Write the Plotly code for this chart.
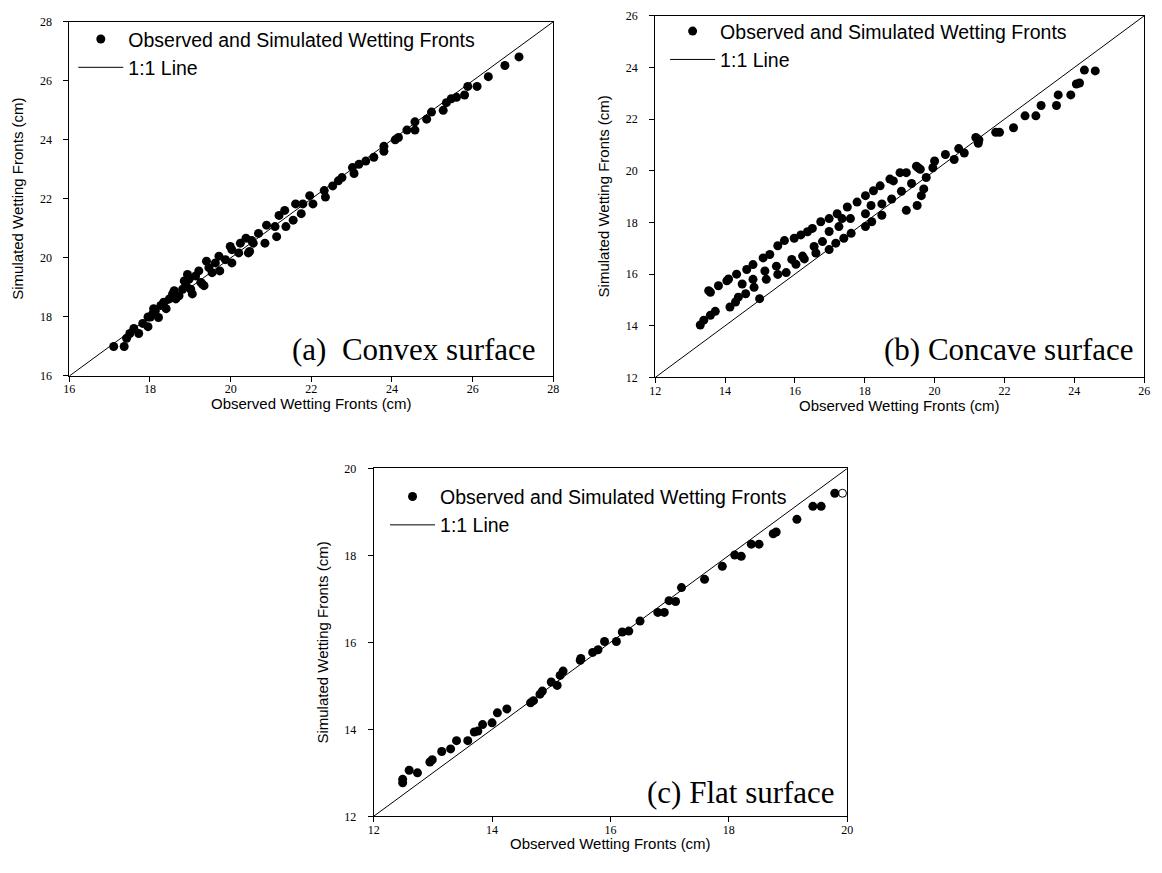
import plotly.graph_objects as go

# ---------------- data ----------------
# (a) Convex surface
convex_obs = [17.10, 17.36, 17.42, 17.50, 17.60, 17.72, 17.82, 17.95, 17.95, 18.01, 18.07, 18.09,
              18.13, 18.21, 18.27, 18.34, 18.40, 18.48, 18.56, 18.60, 18.64, 18.72, 18.81, 18.85,
              18.89, 18.93, 18.97, 19.01, 19.05, 19.13, 19.21, 19.26, 19.30, 19.34, 19.40, 19.46,
              19.54, 19.62, 19.71, 19.73, 19.87, 19.99, 20.03, 20.03, 20.20, 20.24, 20.38, 20.44,
              20.47, 20.52, 20.56, 20.69, 20.85, 20.89, 21.10, 21.14, 21.20, 21.34, 21.37, 21.55,
              21.61, 21.75, 21.79, 21.96, 22.04, 22.32, 22.35, 22.53, 22.67, 22.76, 23.02, 23.06,
              23.18, 23.35, 23.55, 23.80, 23.80, 24.08, 24.16, 24.37, 24.57, 24.57, 24.86, 24.98,
              25.27, 25.35, 25.47, 25.60, 25.80, 25.88, 26.11, 26.39, 26.80, 27.15]
convex_sim = [17.00, 17.00, 17.28, 17.44, 17.61, 17.44, 17.78, 17.67, 18.00, 18.00, 18.11, 18.28,
              18.19, 17.98, 18.39, 18.50, 18.28, 18.61, 18.78, 18.89, 18.61, 18.72, 18.94, 19.22,
              19.11, 19.44, 19.28, 18.94, 18.78, 19.39, 19.56, 19.17, 19.11, 19.06, 19.89, 19.67,
              19.50, 19.83, 20.06, 19.56, 19.94, 20.39, 20.28, 19.83, 20.17, 20.50, 20.67, 20.17,
              20.22, 20.59, 20.50, 20.83, 20.50, 21.11, 21.06, 20.72, 21.44, 21.61, 21.06, 21.28,
              21.83, 21.50, 21.83, 22.11, 21.83, 22.28, 22.06, 22.44, 22.61, 22.72, 23.06, 22.86,
              23.17, 23.28, 23.41, 23.78, 23.61, 24.00, 24.08, 24.33, 24.33, 24.61, 24.70, 24.94,
              25.00, 25.26, 25.39, 25.44, 25.52, 25.81, 25.81, 26.14, 26.52, 26.81]

# (b) Concave surface
concave_obs = [13.29, 13.39, 13.58, 13.72, 13.53, 13.58, 13.81, 14.05, 14.10, 14.14, 14.30, 14.38,
               14.33, 14.49, 14.59, 14.62, 14.80, 14.80, 14.83, 14.99, 15.14, 15.18, 15.09, 15.28,
               15.47, 15.51, 15.51, 15.70, 15.75, 15.91, 15.98, 16.03, 16.17, 16.22, 16.27, 16.36,
               16.50, 16.55, 16.60, 16.74, 16.79, 16.98, 16.98, 16.98, 17.17, 17.21, 17.26, 17.35,
               17.40, 17.50, 17.59, 17.61, 17.78, 18.02, 18.02, 18.02, 18.18, 18.25, 18.20, 18.44,
               18.49, 18.49, 18.77, 18.72, 18.82, 19.01, 19.05, 19.19, 19.19, 19.34, 19.48, 19.53,
               19.50, 19.59, 19.62, 19.69, 19.76, 19.95, 20.00, 20.31, 20.56, 20.69, 20.85, 21.18,
               21.25, 21.27, 21.75, 21.86, 22.26, 22.59, 22.90, 23.05, 23.49, 23.54, 23.90, 24.06,
               24.15, 24.29, 24.60]
concave_sim = [14.03, 14.22, 14.41, 14.56, 15.36, 15.30, 15.55, 15.74, 15.81, 14.73, 14.92, 15.11,
               16.00, 15.62, 15.24, 16.18, 16.37, 15.80, 15.49, 15.05, 16.12, 15.80, 16.63, 16.76,
               16.31, 15.99, 17.10, 17.30, 16.06, 16.57, 17.39, 16.38, 17.52, 16.70, 16.59, 17.64,
               17.77, 17.07, 16.82, 18.03, 17.26, 16.95, 17.65, 18.15, 17.20, 18.34, 17.84, 18.15,
               17.39, 18.60, 18.15, 17.58, 18.79, 19.04, 18.34, 17.84, 18.66, 19.23, 18.03, 19.42,
               18.72, 18.28, 18.91, 19.68, 19.61, 19.93, 19.21, 19.93, 18.47, 19.51, 20.18, 20.12,
               18.66, 20.06, 19.04, 19.30, 19.74, 20.12, 20.38, 20.63, 20.44, 20.86, 20.69, 21.29,
               21.07, 21.20, 21.49, 21.49, 21.67, 22.13, 22.13, 22.53, 22.53, 22.94, 22.94, 23.36,
               23.40, 23.90, 23.87]

# (c) Flat surface
flat_obs = [12.49, 12.49, 12.60, 12.74, 12.95, 12.99, 13.15, 13.30, 13.40, 13.59, 13.70, 13.76,
            13.84, 14.00, 14.09, 14.25, 14.65, 14.70, 14.81, 14.85, 15.00, 15.10, 15.15, 15.20,
            15.49, 15.50, 15.70, 15.79, 15.90, 16.10, 16.20, 16.31, 16.50, 16.80, 16.91, 16.99,
            17.10, 17.20, 17.59, 17.89, 18.10, 18.21, 18.38, 18.51, 18.75, 18.80, 19.15, 19.42,
            19.56, 19.79]
flat_sim = [12.77, 12.85, 13.06, 13.00, 13.25, 13.30, 13.49, 13.55, 13.74, 13.74, 13.94, 13.96,
            14.11, 14.15, 14.38, 14.47, 14.61, 14.66, 14.81, 14.88, 15.09, 15.01, 15.24, 15.34,
            15.59, 15.63, 15.77, 15.83, 16.02, 16.02, 16.24, 16.26, 16.49, 16.69, 16.69, 16.96,
            16.94, 17.26, 17.45, 17.75, 18.01, 17.98, 18.26, 18.26, 18.50, 18.54, 18.83, 19.13,
            19.13, 19.43]
flat_open_obs = [19.92]
flat_open_sim = [19.43]

# axis extents and ticks
range_a = [16, 28]
range_b = [12, 26]
range_c = [12, 20]
ticks_a = [16, 18, 20, 22, 24, 26, 28]
ticks_b = [12, 14, 16, 18, 20, 22, 24, 26]
ticks_c = [12, 14, 16, 18, 20]

panel_labels = ["(a)  Convex surface", "(b) Concave surface", "(c) Flat surface"]
x_title = "Observed Wetting Fronts (cm)"
y_title = "Simulated Wetting Fronts (cm)"
point_name = "Observed and Simulated Wetting Fronts"
line_name = "1:1 Line"

# ---------------- layout geometry ----------------
W, H = 1162, 873
SANS = "Liberation Sans, Arial, sans-serif"
SERIF = "Liberation Serif, Times New Roman, serif"


def px_x(p):
    return p / W


def px_y(p):
    return 1 - p / H


# plot boxes in pixels: left, right, top, bottom
boxes = {
    "a": (64, 553, 15, 375),
    "b": (656, 1150, 9, 376.5),
    "c": (371.5, 850, 469, 822.5),
}

fig = go.Figure()

panels = [
    ("a", "x", "y", "legend", convex_obs, convex_sim, range_a, ticks_a),
    ("b", "x2", "y2", "legend2", concave_obs, concave_sim, range_b, ticks_b),
    ("c", "x3", "y3", "legend3", flat_obs, flat_sim, range_c, ticks_c),
]

for key, xa, ya, lg, obs, sim, rng, tks in panels:
    fig.add_trace(go.Scatter(
        x=obs, y=sim, mode="markers", name=point_name,
        marker=dict(color="black", size=9, line=dict(width=0)),
        xaxis=xa, yaxis=ya, legend=lg, cliponaxis=False,
    ))
    fig.add_trace(go.Scatter(
        x=rng, y=rng, mode="lines", name=line_name,
        line=dict(color="black", width=1),
        xaxis=xa, yaxis=ya, legend=lg,
    ))

fig.add_trace(go.Scatter(
    x=flat_open_obs, y=flat_open_sim, mode="markers", showlegend=False,
    marker=dict(symbol="circle-open", color="black", size=8, line=dict(width=1)),
    xaxis="x3", yaxis="y3",
))


def axis_style(rng, tks, domain, anchor, standoff):
    return dict(
        range=rng, tickvals=tks, ticktext=[str(t) for t in tks], domain=domain, anchor=anchor,
        showline=True, linecolor="black", linewidth=1, mirror=True,
        ticks="outside", ticklen=5, tickwidth=1, tickcolor="black",
        showgrid=False, zeroline=False, ticklabelstandoff=standoff,
        tickfont=dict(family=SERIF, size=12, color="black"),
    )


layout = dict(
    width=W, height=H, autosize=False,
    margin=dict(l=0, r=0, t=0, b=0),
    paper_bgcolor="white", plot_bgcolor="white",
    showlegend=True,
)

axis_names = {"a": ("xaxis", "yaxis", "x", "y"),
              "b": ("xaxis2", "yaxis2", "x2", "y2"),
              "c": ("xaxis3", "yaxis3", "x3", "y3")}
ranges = {"a": (range_a, ticks_a), "b": (range_b, ticks_b), "c": (range_c, ticks_c)}

for key, (l, r, t, b) in boxes.items():
    xn, yn, xid, yid = axis_names[key]
    rng, tks = ranges[key]
    layout[xn] = axis_style(rng, tks, [px_x(l), px_x(r)], yid, -3)
    layout[yn] = axis_style(rng, tks, [px_y(b), px_y(t)], xid, 9)

# legends inside each panel, upper left
legend_pos = {"legend": (68, 13), "legend2": (666, 5), "legend3": (383, 478)}
for name, (lx, ly) in legend_pos.items():
    layout[name] = dict(
        x=px_x(lx), y=px_y(ly), xanchor="left", yanchor="top",
        bgcolor="rgba(0,0,0,0)", borderwidth=0,
        font=dict(family=SANS, size=19.5, color="black"),
        traceorder="normal", itemwidth=45,
    )

fig.update_layout(**layout)

annotations = []
label_pos = {"a": (538, 348), "b": (1142, 348), "c": (840, 798)}
for lbl, key in zip(panel_labels, ["a", "b", "c"]):
    ax_, ay_ = label_pos[key]
    annotations.append(dict(
        text=lbl, x=px_x(ax_), y=px_y(ay_), xref="paper", yref="paper",
        xanchor="right", yanchor="middle", showarrow=False,
        font=dict(family=SERIF, size=31, color="black"),
    ))

for key, (l, r, t, b) in boxes.items():
    annotations.append(dict(
        text=x_title, x=px_x((l + r) / 2), y=px_y(b + 28), xref="paper", yref="paper",
        xanchor="center", yanchor="middle", showarrow=False,
        font=dict(family=SANS, size=15, color="black"),
    ))
    annotations.append(dict(
        text=y_title, x=px_x(l - 52), y=px_y((t + b) / 2), xref="paper", yref="paper",
        xanchor="center", yanchor="middle", showarrow=False, textangle=-90,
        font=dict(family=SANS, size=15, color="black"),
    ))

fig.update_layout(annotations=annotations)

fig.write_html("out.html")
